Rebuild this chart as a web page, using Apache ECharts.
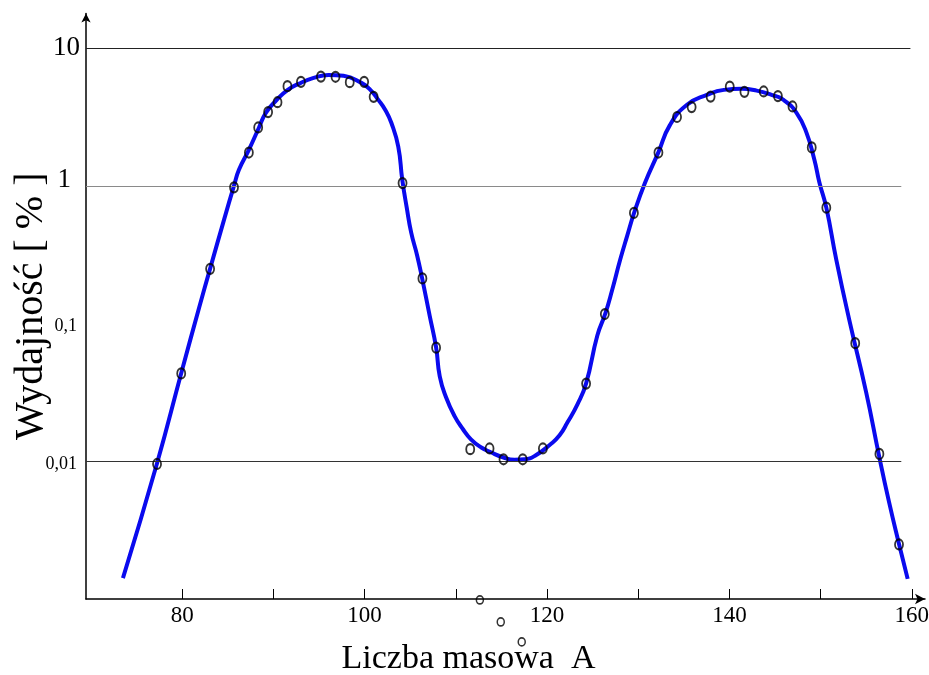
<!DOCTYPE html>
<html>
<head>
<meta charset="utf-8">
<script src="https://cdn.jsdelivr.net/npm/echarts@6/dist/echarts.min.js"></script>
<style>html,body{margin:0;padding:0;background:#fff}#c{width:929px;height:675px}</style>
</head>
<body>
<div id="c"></div>
<script>
// Fitted curve (mass number A, yield %)
const curveA = [73.50,77.24,79.89,81.86,83.06,84.59,85.68,86.22,87.31,88.41,89.17,90.37,91.57,92.77,94.41,96.05,97.69,99.65,100.63,101.51,102.27,102.93,103.69,104.13,104.62,105.11,105.76,106.31,107.15,107.84,108.24,108.93,109.88,110.79,111.66,112.75,113.84,115.15,116.46,117.55,118.65,120.39,121.38,122.25,123.34,124.29,125.52,126.40,127.16,128.03,128.80,129.56,130.76,132.19,133.49,135.35,137.53,139.39,141.35,142.99,144.63,145.94,147.36,148.45,149.32,149.87,150.63,151.72,153.14,155.00,156.42,157.51,158.60,159.55];
const curveYield = [0.00142,0.00968,0.0436,0.131,0.251,0.570,1.005,1.31,1.83,2.65,3.40,4.22,4.99,5.52,6.10,6.41,6.31,5.61,4.99,4.22,3.57,2.88,1.93,1.11,0.696,0.458,0.313,0.213,0.113,0.0672,0.0414,0.0292,0.0212,0.0171,0.01445,0.01265,0.01164,0.01071,0.01028,0.01035,0.01094,0.0133,0.01545,0.0192,0.0259,0.0368,0.082,0.1186,0.177,0.292,0.436,0.640,1.06,1.74,2.78,3.89,4.59,4.99,5.08,4.93,4.59,4.22,3.40,2.44,1.55,1.06,0.696,0.292,0.107,0.0317,0.0109,0.00505,0.00251,0.0014];
// Measured points
const pointsA = [77.24,79.89,83.06,85.68,87.31,88.33,89.42,90.45,91.54,93.02,95.21,96.81,98.37,99.95,100.99,104.16,106.34,107.84,111.58,113.70,115.23,117.34,119.55,124.29,126.34,129.53,132.22,134.26,135.86,137.94,140.04,141.65,143.76,145.32,146.92,149.03,150.63,153.80,156.45,158.60];
const pointsYield = [0.00957,0.0435,0.250,0.977,1.75,2.66,3.44,4.06,5.31,5.71,6.23,6.21,5.68,5.71,4.44,1.05,0.213,0.0669,0.01225,0.0124,0.01035,0.01035,0.0124,0.0367,0.1175,0.637,1.75,3.17,3.74,4.46,5.27,4.83,4.86,4.50,3.78,1.905,0.696,0.0722,0.01132,0.00249];
// Points below the axis minimum
const strayA = [112.64,114.93,117.23];
const strayYield = [0.000984,0.000681,0.000488];
// Axis ticks / labels
const xTickValues = [80,90,100,110,120,130,140,150,160];
const xLabelValues = [80,100,120,140,160];
const yTickValues = [10,1,0.1,0.01];
const yTickLabels = ['10','1','0,1','0,01'];
const gridValues = [10,1,0.01];

const zip = (a,b) => a.map((v,i)=>[v,b[i]]);
const chart = echarts.init(document.getElementById('c'), null, {renderer:'canvas'});
const FONT = 'Liberation Serif';
const gridColors = ['#222','#8a8a8a','#333'];
const gridEnds = [159.85,158.85,158.85];
const X_MIN = 69.45;

chart.setOption({
  animation:false,
  backgroundColor:'#fff',
  grid:{left:86,right:4,top:13.5,bottom:76,outerBoundsMode:'none',containLabel:false},
  xAxis:{
    type:'value', min:X_MIN, max:161.45,
    name:'Liczba masowa  A', nameLocation:'middle', nameGap:43, nameMoveOverlap:false,
    nameTextStyle:{fontFamily:FONT,fontSize:34,color:'#000',padding:[0,74,0,0]},
    axisLine:{onZero:false,lineStyle:{color:'#000',width:1.5},symbol:['none','arrow'],symbolSize:[8,10]},
    axisTick:{show:true,inside:true,length:10,customValues:xTickValues,lineStyle:{color:'#000',width:1}},
    axisLabel:{customValues:xLabelValues,fontFamily:FONT,fontSize:23,color:'#000',margin:5},
    splitLine:{show:false}
  },
  yAxis:{
    type:'log', logBase:10, min:0.001, max:17.9,
    name:'Wydajność [ % ]', nameLocation:'middle', nameGap:35, nameRotate:90, nameMoveOverlap:false,
    nameTextStyle:{fontFamily:FONT,fontSize:40,color:'#000'},
    axisLine:{show:true,lineStyle:{color:'#000',width:1.5},symbol:['none','arrow'],symbolSize:[7,9]},
    axisTick:{show:false},
    splitLine:{show:false},
    axisLabel:{
      margin:6,
      formatter:function(v){
        for(let i=0;i<yTickValues.length;i++){
          if(Math.abs(Math.log10(v)-Math.log10(yTickValues[i]))<1e-6){
            const t = yTickLabels[i];
            if(t==='10') return '{b|'+t+'}';
            if(t==='1') return '{one|'+t+'}';
            return '{s|'+t+'}';
          }
        }
        return '';
      },
      rich:{
        b:{fontFamily:FONT,fontSize:27,color:'#000'},
        one:{fontFamily:FONT,fontSize:27,color:'#000',padding:[0,9,12,0]},
        s:{fontFamily:FONT,fontSize:18,color:'#000',padding:[6,3,0,0]}
      }
    }
  },
  series:[
    {
      type:'line', data:zip(curveA,curveYield), smooth:0.5, showSymbol:false,
      lineStyle:{color:'#0a0aee',width:4}, z:3,
      markLine:{
        silent:true, symbol:'none', label:{show:false}, animation:false,
        data: gridValues.map((g,i)=>[
          {coord:[X_MIN,g], lineStyle:{color:gridColors[i],width:1.2,type:'solid'}},
          {coord:[gridEnds[i],g]}
        ])
      }
    },
    {
      type:'scatter', data:zip(pointsA,pointsYield), symbol:'circle', symbolSize:[8,10],
      itemStyle:{color:'rgba(255,255,255,0)',borderColor:'#000',borderWidth:2}, z:5
    },
    {
      type:'scatter', data:zip(strayA,strayYield), symbol:'circle', symbolSize:[7,8], clip:false,
      itemStyle:{color:'rgba(255,255,255,0)',borderColor:'#000',borderWidth:1.6}, z:5
    }
  ]
});
</script>
</body>
</html>
